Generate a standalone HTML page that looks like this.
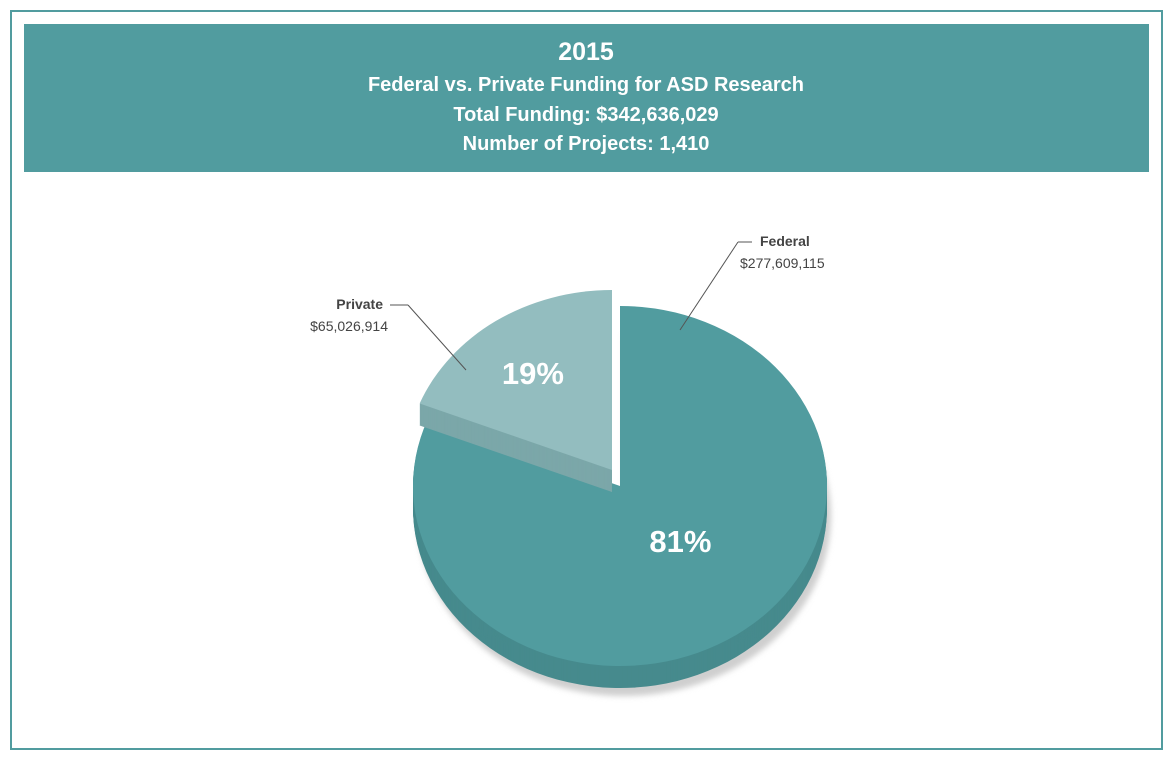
<!DOCTYPE html>
<html><head><meta charset="utf-8"><style>
body{margin:0;background:#fff;font-family:"Liberation Sans",sans-serif}
</style></head><body>
<svg width="1173" height="760" viewBox="0 0 1173 760">
<defs><filter id="blur" x="-10%" y="-10%" width="120%" height="120%"><feGaussianBlur stdDeviation="3"/></filter></defs>
<rect x="11" y="11" width="1151" height="738" fill="none" stroke="#519c9f" stroke-width="2"/>
<rect x="24" y="24" width="1125" height="148" fill="#519c9f"/>
<g fill="#fff" font-weight="bold" text-anchor="middle">
<text x="586" y="60" font-size="25">2015</text>
<text x="586" y="91" font-size="20">Federal vs. Private Funding for ASD Research</text>
<text x="586" y="121" font-size="20">Total Funding: $342,636,029</text>
<text x="586" y="150" font-size="20">Number of Projects: 1,410</text>
</g>
<g id="pie"></g>
<g font-size="14" fill="#444">
<line x1="738" y1="242" x2="680" y2="330" stroke="#555" stroke-width="1"/>
<line x1="738" y1="242" x2="752" y2="242" stroke="#555" stroke-width="1"/>
<text x="760" y="246" font-weight="bold">Federal</text>
<text x="740" y="268">$277,609,115</text>
<line x1="390" y1="305" x2="408" y2="305" stroke="#555" stroke-width="1"/>
<line x1="408" y1="305" x2="466" y2="370" stroke="#555" stroke-width="1"/>
<text x="383" y="309" font-weight="bold" text-anchor="end">Private</text>
<text x="388" y="331" text-anchor="end">$65,026,914</text>
</g>
</svg>
<script>
const categories=["Private","Federal"];
const values=[65026914,277609115];
const pctLabels=["19%","81%"];
const NS="http://www.w3.org/2000/svg";
const g=document.getElementById('pie');
const total=values.reduce((a,b)=>a+b,0);
const rx=207,ry=180,depth=22;
const centers=[[612,470],[620,486]];
const topCol=["#93bdbf","#519c9f"],sideCol=["#7ba7a9","#468a8d"];
const labelPos=[[0.68,0.65],[0.52,0.37]];
function pt(cx,cy,a){return [cx+rx*Math.sin(a),cy-ry*Math.cos(a)];}
function sector(cx,cy,a0,a1){
 const p0=pt(cx,cy,a0),p1=pt(cx,cy,a1);const large=(a1-a0)>Math.PI?1:0;
 return `M${cx},${cy}L${p0[0]},${p0[1]}A${rx},${ry} 0 ${large} 1 ${p1[0]},${p1[1]}Z`;}
let angles=[];
const a0p=-2*Math.PI*values[0]/total;
angles.push([a0p,0]);
angles.push([0,2*Math.PI+a0p]);
// shadow shaped like federal slice
const sh=document.createElementNS(NS,'path');
sh.setAttribute('d',sector(centers[1][0]+4,centers[1][1]+depth+8,angles[1][0],angles[1][1]));
sh.setAttribute('fill','#cfcfcf');sh.setAttribute('filter','url(#blur)');


g.appendChild(sh);
[1,0].forEach(i=>{
 const [cx,cy]=centers[i];const [a0,a1]=angles[i];
 for(let d=depth;d>0;d-=1){
  const s=document.createElementNS(NS,'path');
  s.setAttribute('d',sector(cx,cy+d,a0,a1));s.setAttribute('fill',sideCol[i]);
  
  
  g.appendChild(s);}
 const t=document.createElementNS(NS,'path');
 t.setAttribute('d',sector(cx,cy,a0,a1));t.setAttribute('fill',topCol[i]);
 
 
 g.appendChild(t);
 const mid=(a0+a1)/2;const [rxf,ryf]=labelPos[i];
 const tx=document.createElementNS(NS,'text');
 tx.setAttribute('x',cx+rx*rxf*Math.sin(mid));tx.setAttribute('y',cy-ry*ryf*Math.cos(mid)+11);
 tx.setAttribute('fill','#fff');tx.setAttribute('font-size','31');tx.setAttribute('font-weight','bold');tx.setAttribute('text-anchor','middle');
 tx.textContent=pctLabels[i];
 
 
 g.appendChild(tx);
});
</script>
</body></html>
